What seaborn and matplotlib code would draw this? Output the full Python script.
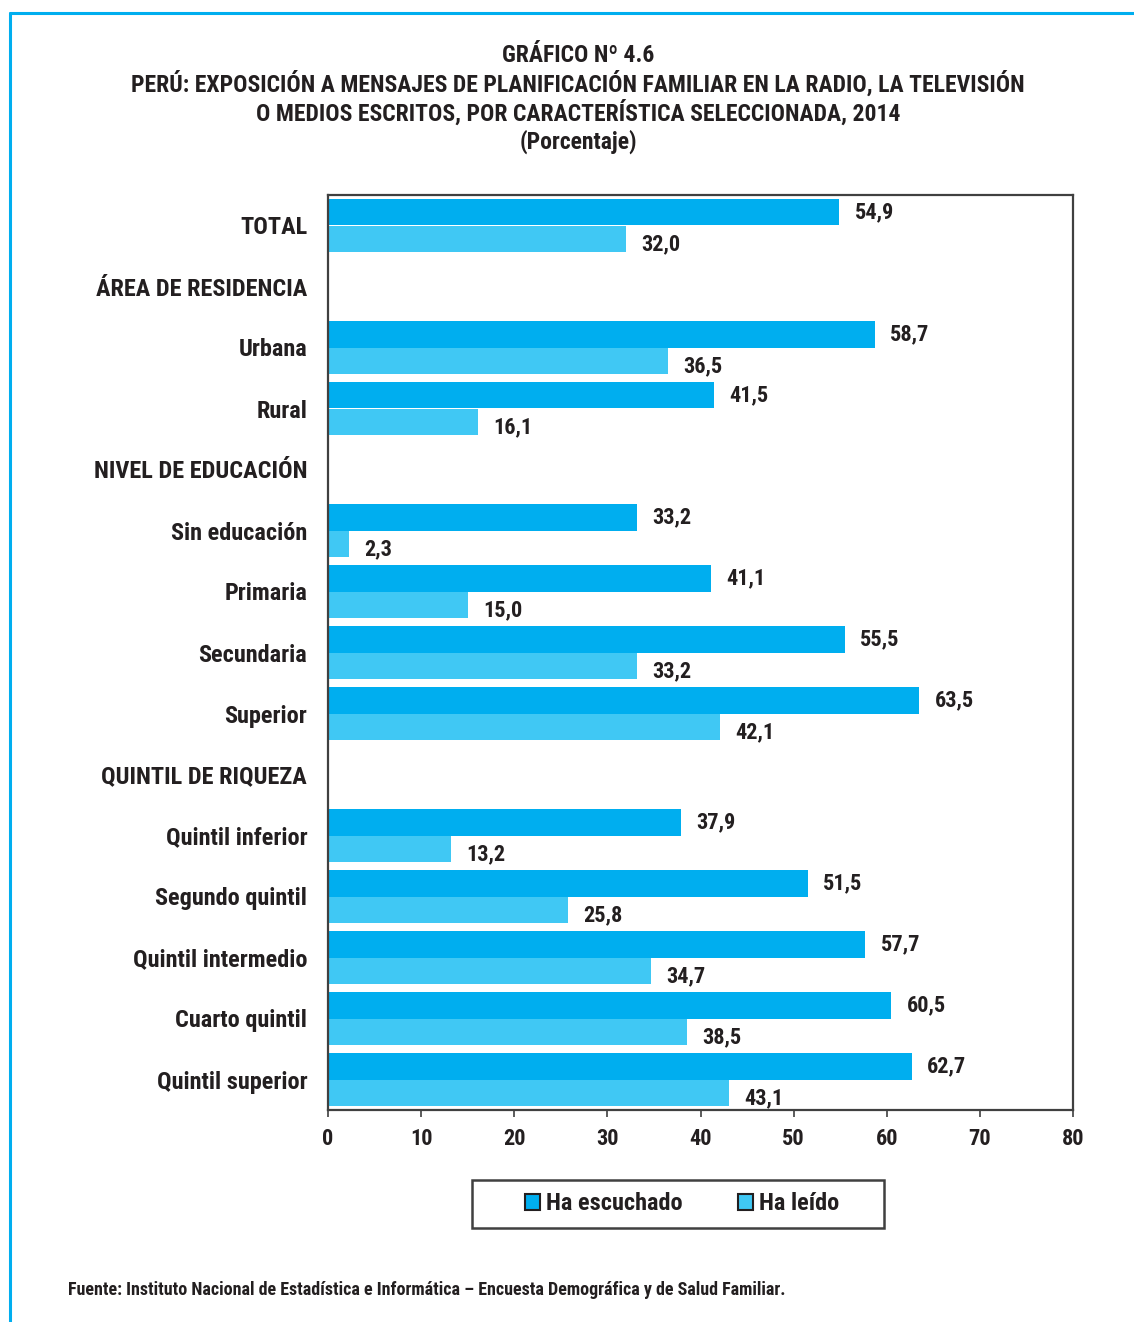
import pandas as pd
import matplotlib.pyplot as plt
import seaborn as sns
from matplotlib.lines import Line2D
from matplotlib.patches import Patch, Rectangle

# Datos del gráfico (porcentaje)
categorias = ["TOTAL", "Urbana", "Rural", "Sin educación", "Primaria", "Secundaria",
              "Superior", "Quintil inferior", "Segundo quintil", "Quintil intermedio",
              "Cuarto quintil", "Quintil superior"]
ha_escuchado = [54.9, 58.7, 41.5, 33.2, 41.1, 55.5, 63.5, 37.9, 51.5, 57.7, 60.5, 62.7]
ha_leido = [32.0, 36.5, 16.1, 2.3, 15.0, 33.2, 42.1, 13.2, 25.8, 34.7, 38.5, 43.1]

# Orden de filas, con los encabezados de grupo
orden = ["TOTAL", "ÁREA DE RESIDENCIA", "Urbana", "Rural", "NIVEL DE EDUCACIÓN",
         "Sin educación", "Primaria", "Secundaria", "Superior", "QUINTIL DE RIQUEZA",
         "Quintil inferior", "Segundo quintil", "Quintil intermedio", "Cuarto quintil",
         "Quintil superior"]
series = ["Ha escuchado", "Ha leído"]
colores = ["#00AEEF", "#40C8F4"]

df = pd.DataFrame({
    "cat": categorias * 2,
    "valor": ha_escuchado + ha_leido,
    "serie": [series[0]] * len(categorias) + [series[1]] * len(categorias),
})

sns.set_style("white")
plt.rcParams["font.family"] = ["Roboto Condensed", "Liberation Sans", "DejaVu Sans"]
plt.rcParams["font.weight"] = "bold"
texto = "#231F20"
W, H = 1134, 1322

fig = plt.figure(figsize=(W / 100, H / 100), dpi=100)
ax = fig.add_axes([328 / W, 1 - 1110 / H, (1073 - 328) / W, (1110 - 195) / H])

sns.barplot(data=df, y="cat", x="valor", hue="serie", order=orden, hue_order=series,
            orient="h", palette=colores, width=0.86, saturation=1, gap=0,
            linewidth=0, legend=False, ax=ax)

# Etiquetas de valores con coma decimal
for k, cont in enumerate(ax.containers):
    etiquetas = [f"{b.get_width():.1f}".replace(".", ",") for b in cont]
    anns = ax.bar_label(cont, labels=etiquetas, padding=11, fontsize=16,
                        fontweight="bold", color=texto)
    if k == 1:
        for a in anns:
            a.xyann = (11, -4)

ax.set_xlim(0, 80)
ax.set_ylim(len(orden) - 0.5, -0.5)
ax.set_xticks(range(0, 81, 10))
ax.set_xlabel("")
ax.set_ylabel("")
ax.tick_params(axis="y", length=0, pad=15, labelsize=17.5, labelcolor=texto)
ax.tick_params(axis="x", length=5, width=1.2, direction="out", pad=8, labelsize=16,
               labelcolor=texto, bottom=True, color="#404040")
for lab in ax.get_yticklabels() + ax.get_xticklabels():
    lab.set_fontweight("bold")
for s in ax.spines.values():
    s.set_color("#404040")
    s.set_linewidth(1.6)

# Títulos
titulos = ["GRÁFICO Nº 4.6",
           "PERÚ: EXPOSICIÓN A MENSAJES DE PLANIFICACIÓN FAMILIAR EN LA RADIO, LA TELEVISIÓN",
           "O MEDIOS ESCRITOS, POR CARACTERÍSTICA SELECCIONADA, 2014",
           "(Porcentaje)"]
for i, t in enumerate(titulos):
    fig.text(578 / W, 1 - (55 + 29 * i) / H, t, ha="center", va="center",
             fontsize=17, fontweight="bold", color=texto)

# Leyenda (marco dibujado aparte)
fig.add_artist(Rectangle((472 / W, 1 - 1228 / H), (884 - 472) / W, 48 / H,
                         transform=fig.transFigure, facecolor="white",
                         edgecolor="#404040", linewidth=1.8))
manejadores = [Patch(facecolor=c, edgecolor="#231F20", linewidth=1.5, label=s)
               for c, s in zip(colores, series)]
leg = fig.legend(handles=manejadores, loc="center", ncol=2,
                 bbox_to_anchor=(682 / W, 1 - 1204 / H), frameon=False,
                 fontsize=17.5, handlelength=0.6, handleheight=0.6,
                 handletextpad=0.25, columnspacing=2.3, borderpad=0,
                 borderaxespad=0)
for t in leg.get_texts():
    t.set_fontweight("bold")
    t.set_color(texto)

# Fuente
fig.text(68 / W, 1 - 1290 / H,
         "Fuente: Instituto Nacional de Estadística e Informática – Encuesta Demográfica y de Salud Familiar.",
         ha="left", va="center", fontsize=13, fontweight="bold", color=texto)

# Marco azul
fig.add_artist(Line2D([10 / W, 1], [1 - 13 / H, 1 - 13 / H],
                      color="#00AEEF", linewidth=2.2, transform=fig.transFigure))
fig.add_artist(Line2D([10 / W, 10 / W], [0, 1 - 13 / H],
                      color="#00AEEF", linewidth=2.2, transform=fig.transFigure))

fig.savefig("out.png", dpi=100)
